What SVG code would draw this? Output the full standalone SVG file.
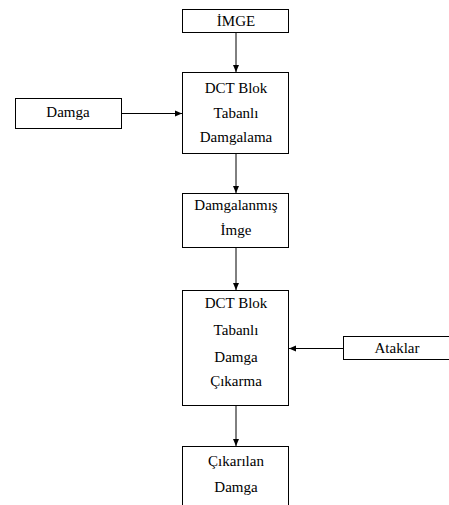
<svg xmlns="http://www.w3.org/2000/svg" width="449" height="505" viewBox="0 0 449 505">
<style>
.box{fill:#fff;stroke:#000;stroke-width:1}
.t{font-family:'Liberation Serif',serif;font-size:15px;fill:#000;text-anchor:middle}
.c{stroke:#000;stroke-width:1;fill:none}
</style>
<defs>
<marker id="ah" markerWidth="8" markerHeight="8" refX="7" refY="4" orient="auto" markerUnits="userSpaceOnUse">
<path d="M0,1 L7,4 L0,7 Z" fill="#000"/>
</marker>
</defs>
<rect width="449" height="505" fill="#fff"/>
<g id="connectors">
<line class="c" x1="236" y1="33" x2="236" y2="72" marker-end="url(#ah)"/>
<line class="c" x1="122" y1="113.5" x2="182" y2="113.5" marker-end="url(#ah)"/>
<line class="c" x1="236" y1="154" x2="236" y2="193" marker-end="url(#ah)"/>
<line class="c" x1="236" y1="248" x2="236" y2="290" marker-end="url(#ah)"/>
<line class="c" x1="343" y1="348.5" x2="289" y2="348.5" marker-end="url(#ah)"/>
<line class="c" x1="236" y1="406" x2="236" y2="446" marker-end="url(#ah)"/>
</g>
<g id="imge">
<rect class="box" x="182.5" y="9.5" width="106" height="23"/>
<text class="t" x="236" y="26">İMGE</text>
</g>
<g id="dct1">
<rect class="box" x="182.5" y="72.5" width="106" height="81"/>
<text class="t" x="236" y="93">DCT Blok</text>
<text class="t" x="236" y="118">Tabanlı</text>
<text class="t" x="236" y="142">Damgalama</text>
</g>
<g id="damga">
<rect class="box" x="15.5" y="98.5" width="106" height="30"/>
<text class="t" x="68" y="117">Damga</text>
</g>
<g id="damgalanmis">
<rect class="box" x="182.5" y="193.5" width="106" height="54"/>
<text class="t" x="236" y="210">Damgalanmış</text>
<text class="t" x="236" y="235">İmge</text>
</g>
<g id="dct2">
<rect class="box" x="182.5" y="290.5" width="106" height="115"/>
<text class="t" x="236" y="308">DCT Blok</text>
<text class="t" x="236" y="335">Tabanlı</text>
<text class="t" x="236" y="362">Damga</text>
<text class="t" x="236" y="386">Çıkarma</text>
</g>
<g id="ataklar">
<rect class="box" x="343.5" y="336.5" width="110" height="23"/>
<text class="t" x="397" y="353">Ataklar</text>
</g>
<g id="cikarilan">
<rect class="box" x="182.5" y="446.5" width="106" height="70"/>
<text class="t" x="236" y="466">Çıkarılan</text>
<text class="t" x="236" y="492">Damga</text>
</g>
</svg>
